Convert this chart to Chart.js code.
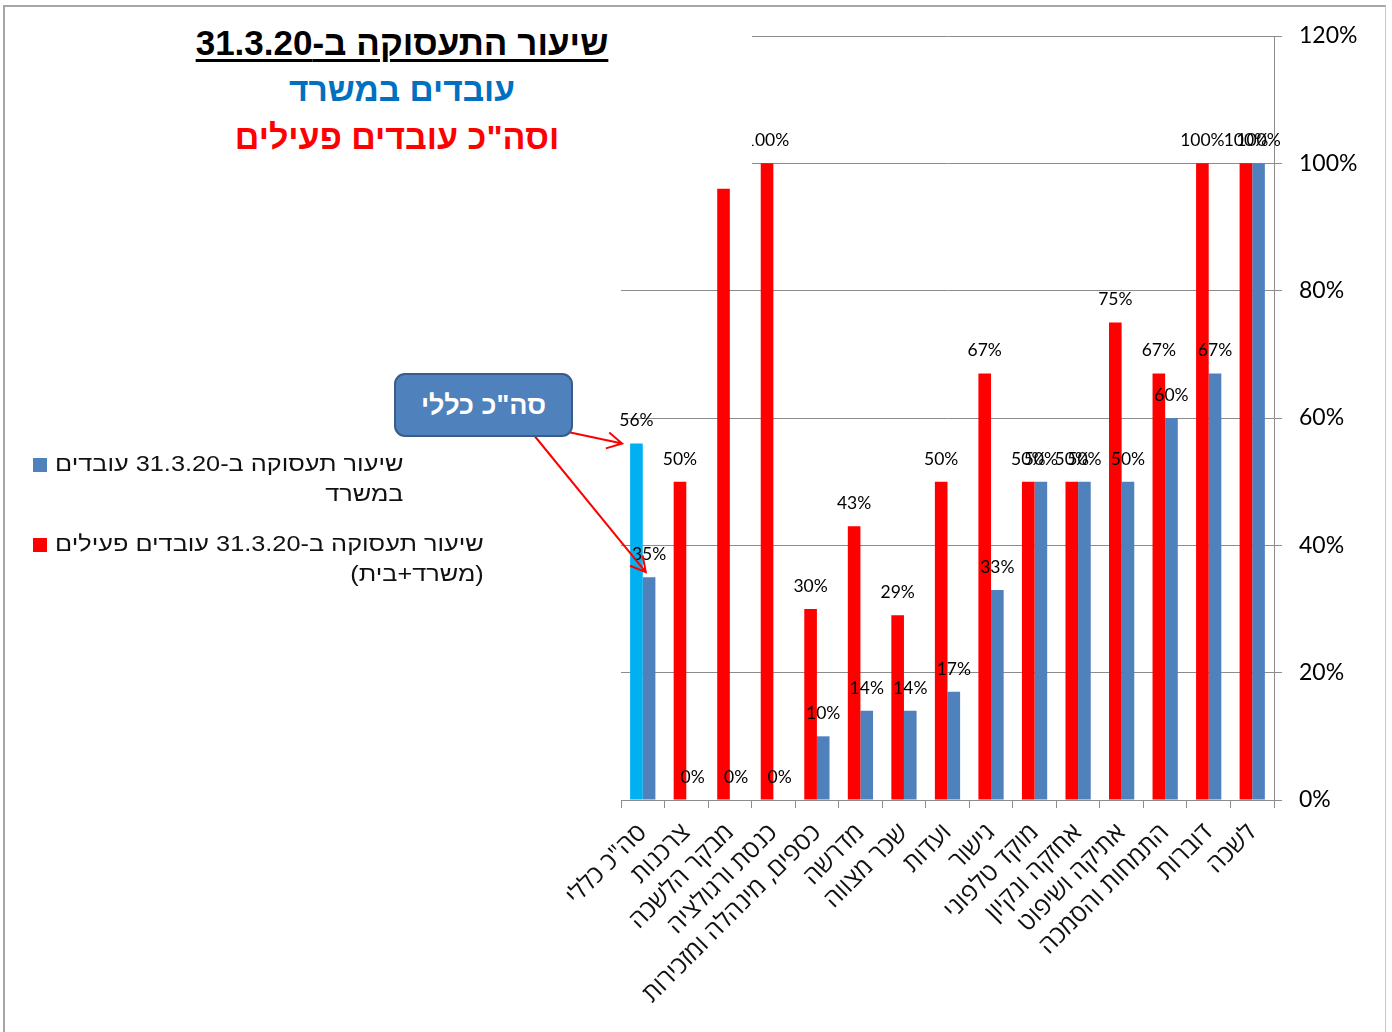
<!DOCTYPE html>
<html lang="he">
<head>
<meta charset="utf-8">
<script src="https://cdn.jsdelivr.net/npm/chart.js@4.4.1/dist/chart.umd.min.js"></script>
<style>
  html, body { margin: 0; padding: 0; background: #fff; }
  #wrap { position: relative; width: 1392px; height: 1032px; overflow: hidden; }
  #chart { position: absolute; left: 0; top: 0; }
  .frame { position: absolute; left: 3px; top: 5px; width: 1380px; height: 1040px;
           border-left: 2px solid #a6a6a6; border-top: 2px solid #a6a6a6; border-right: 1px solid #c8c8c8;
           pointer-events: none; }
  .title-box { position: absolute; left: 6px; top: 8px; width: 746px; height: 170px; background: #fff; }
  .t { position: absolute; font-family: "Liberation Sans", Arial, sans-serif; font-weight: bold;
       white-space: nowrap; direction: rtl; }
  .legend { position: absolute; font-family: "Liberation Sans", Arial, sans-serif; font-size: 22px;
            color: #111; line-height: 30px; }
  .legend .sw { position: absolute; width: 14px; height: 14px; }
  .legend .txt { position: absolute; direction: rtl; text-align: right; white-space: nowrap;
                 transform: scaleX(1.15); transform-origin: left top; }
  .callout { position: absolute; left: 394px; top: 373px; width: 175px; height: 60px;
             background: #4f81bd; border: 2px solid #385d8a; border-radius: 11px;
             color: #fff; font-family: "Liberation Sans", Arial, sans-serif; font-weight: bold;
             font-size: 27px; line-height: 60px; text-align: center; direction: rtl; }
</style>
</head>
<body>
<div id="wrap">
  <canvas id="chart" width="1392" height="1032"></canvas>
  <div class="title-box"></div>
  <div class="t" id="t1" style="left:402px; top:23px; font-size:35px; color:#000; text-decoration: underline; text-decoration-thickness: 3px; text-underline-offset: 4px;">שיעור התעסוקה ב-31.3.20</div>
  <div class="t" id="t2" style="left:402px; top:71px; font-size:33.5px; color:#0070c0;">עובדים במשרד</div>
  <div class="t" id="t3" style="left:397px; top:118px; font-size:34px; color:#ff0000;">וסה"כ עובדים פעילים</div>
  <div class="legend" id="legend"></div>
  <div class="callout">סה"כ כללי</div>
  <div class="frame"></div>
</div>
<script>
// Chart data
const categories = [
  'סה"כ כללי', 'צרכנות', 'מבקר הלשכה', 'כנסת ורגולציה', 'כספים, מינהלה ומזכירות',
  'מדרשה', 'שכר מצווה', 'ועדות', 'גישור', 'מוקד טלפוני',
  'אחזקה ונקיון', 'אתיקה ושיפוט', 'התמחות והסמכה', 'דוברות', 'לשכה'
];
const activeValues = [56, 50, 96, 100, 30, 43, 29, 50, 67, 50, 50, 75, 67, 100, 100];
const officeValues = [35, 0, 0, 0, 10, 14, 14, 17, 33, 50, 50, 50, 60, 67, 100];
const yTicks = [0, 20, 40, 60, 80, 100, 120];

const activeLabel = 'שיעור תעסוקה ב-31.3.20 עובדים פעילים (משרד+בית)';
const officeLabel = 'שיעור תעסוקה ב-31.3.20 עובדים במשרד';
const legendLines = {
  [officeLabel]: ['שיעור תעסוקה ב-31.3.20 עובדים', 'במשרד'],
  [activeLabel]: ['שיעור תעסוקה ב-31.3.20 עובדים פעילים', '(משרד+בית)']
};

const RED = '#ff0000';
const CYAN = '#00b0f0';
const BLUE = '#4f81bd';
const GRID = '#8c8c8c';

// first red bar (total) is highlighted in cyan
const activeColors = activeValues.map((v, i) => i === 0 ? CYAN : RED);

// value labels above bars
const valueLabels = {
  id: 'valueLabels',
  afterDatasetsDraw(chart) {
    const ctx = chart.ctx;
    ctx.save();
    ctx.font = '17.5px Lato, "Open Sans", sans-serif';
    ctx.fillStyle = '#000';
    ctx.textAlign = 'center';
    ctx.textBaseline = 'bottom';
    chart.data.datasets.forEach((ds, di) => {
      const meta = chart.getDatasetMeta(di);
      meta.data.forEach((bar, i) => {
        ctx.fillText(ds.data[i] + '%', bar.x, bar.y - 14);
      });
    });
    ctx.restore();
  }
};

// red arrows from the callout box to the first group
function arrow(ctx, x1, y1, x2, y2) {
  const a = Math.atan2(y2 - y1, x2 - x1);
  const len = 17, spread = 0.5;
  ctx.beginPath();
  ctx.moveTo(x1, y1);
  ctx.lineTo(x2, y2);
  ctx.moveTo(x2 - len * Math.cos(a - spread), y2 - len * Math.sin(a - spread));
  ctx.lineTo(x2, y2);
  ctx.lineTo(x2 - len * Math.cos(a + spread), y2 - len * Math.sin(a + spread));
  ctx.stroke();
}

const calloutArrows = {
  id: 'calloutArrows',
  afterDraw(chart) {
    const ctx = chart.ctx;
    const total = chart.getDatasetMeta(0).data[0];
    const office = chart.getDatasetMeta(1).data[0];
    ctx.save();
    ctx.strokeStyle = RED;
    ctx.lineWidth = 2;
    arrow(ctx, 568, 432, total.x - total.width / 2 - 8, total.y);
    arrow(ctx, 533, 434, office.x - office.width / 2 + 3, office.y - 5);
    ctx.restore();
  }
};

const chart = new Chart(document.getElementById('chart'), {
  type: 'bar',
  data: {
    labels: categories,
    datasets: [
      {
        label: activeLabel,
        data: activeValues,
        backgroundColor: activeColors,
        legendColor: RED,
        borderWidth: 0,
        categoryPercentage: 0.58,
        barPercentage: 1.0
      },
      {
        label: officeLabel,
        data: officeValues,
        backgroundColor: BLUE,
        legendColor: BLUE,
        borderWidth: 0,
        categoryPercentage: 0.58,
        barPercentage: 1.0
      }
    ]
  },
  options: {
    responsive: false,
    animation: false,
    layout: { padding: { left: 621, top: 36, right: 0, bottom: 0 } },
    plugins: {
      legend: { display: false },
      tooltip: { enabled: false }
    },
    scales: {
      x: {
        grid: {
          offset: true,
          drawOnChartArea: false,
          drawTicks: true,
          tickLength: 8,
          color: GRID
        },
        border: { color: GRID, width: 1 },
        ticks: {
          color: '#111',
          font: { family: '"Open Sans", "DejaVu Sans", sans-serif', size: 25 },
          maxRotation: 45,
          minRotation: 45,
          padding: 10,
          autoSkip: false
        },
        afterFit(scale) { scale.height = 232; }
      },
      y: {
        position: 'right',
        min: 0,
        max: 120,
        afterBuildTicks(scale) { scale.ticks = yTicks.map(v => ({ value: v })); },
        grid: { color: GRID, tickLength: 8, drawTicks: true },
        border: { color: GRID, width: 1 },
        ticks: {
          color: '#000',
          padding: 17,
          font: { family: 'Lato, "Open Sans", sans-serif', size: 23 },
          callback: v => v + '%'
        },
        afterFit(scale) { scale.width = 118; }
      }
    }
  },
  plugins: [valueLabels, calloutArrows]
});

// html legend built from the datasets (office first, like the original)
const legendEl = document.getElementById('legend');
const legendTops = [449, 529];
chart.data.datasets.slice().reverse().forEach((ds, i) => {
  const sw = document.createElement('div');
  sw.className = 'sw';
  sw.style.left = '33px';
  sw.style.top = (legendTops[i] + 9) + 'px';
  sw.style.background = ds.legendColor;
  const txt = document.createElement('div');
  txt.className = 'txt';
  txt.style.left = '55px';
  txt.style.top = legendTops[i] + 'px';
  txt.innerHTML = legendLines[ds.label].join('<br>');
  legendEl.appendChild(sw);
  legendEl.appendChild(txt);
});

// center the title lines on their x positions
['t1', 't2', 't3'].forEach(id => {
  document.getElementById(id).style.transform = 'translateX(-50%)';
});
</script>
</body>
</html>
